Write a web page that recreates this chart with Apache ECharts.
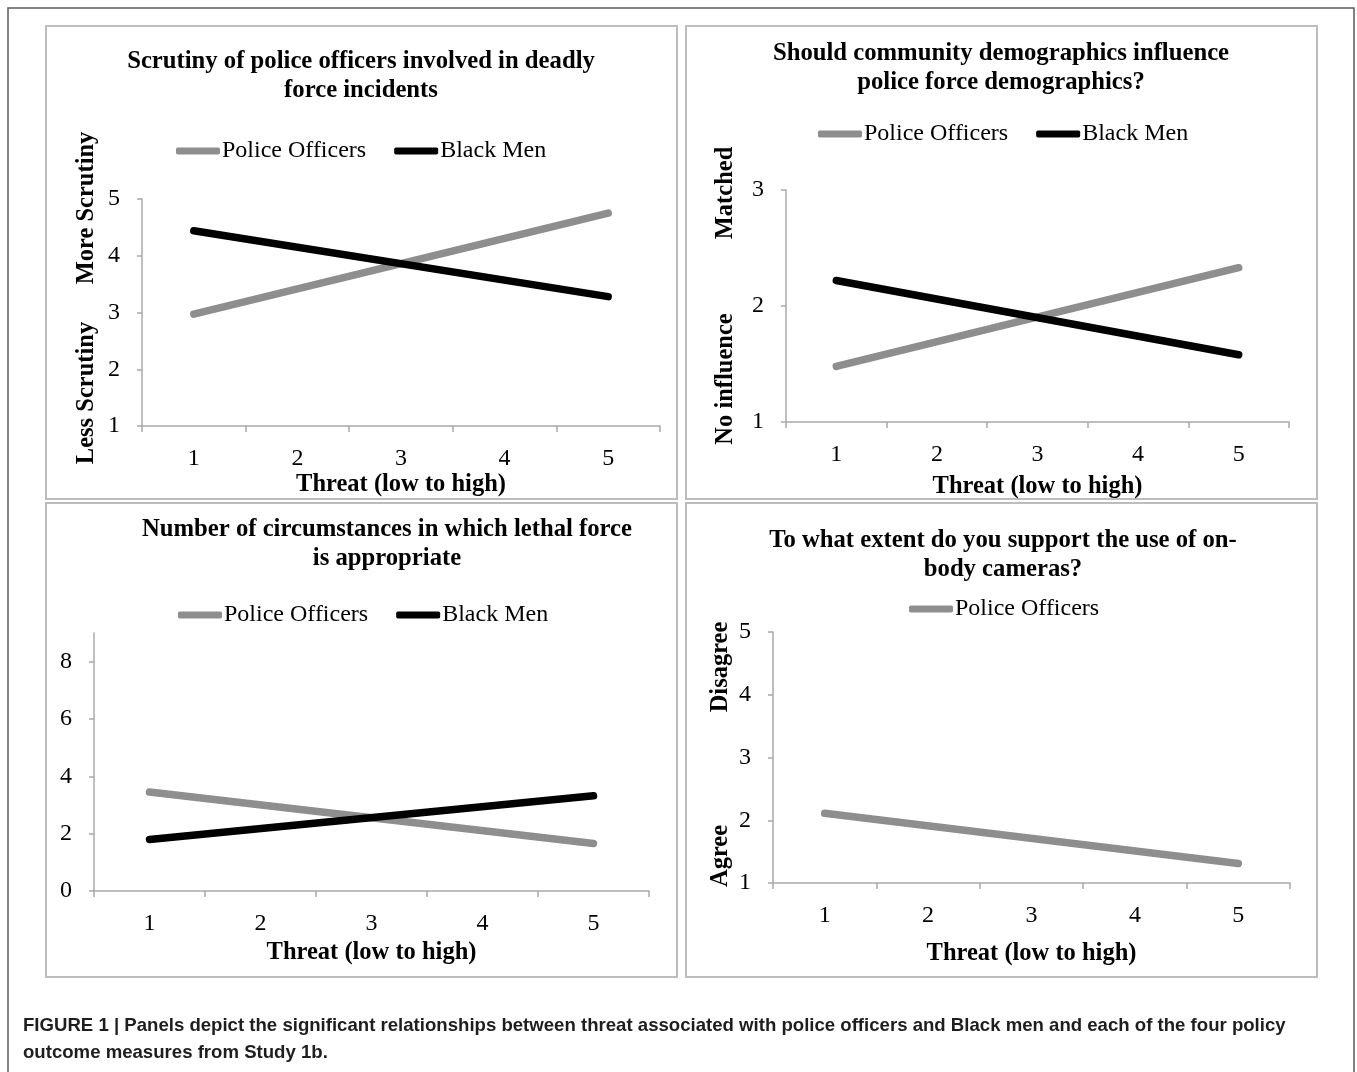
<!DOCTYPE html>
<html><head><meta charset="utf-8">
<script src="https://cdn.jsdelivr.net/npm/echarts@6/dist/echarts.min.js"></script>
<style>html,body{margin:0;padding:0;background:#fff}#c{width:1357px;height:1072px}</style>
</head><body><div id="c"></div>
<script>
// ---------- data ----------
const threatLevels = ['1', '2', '3', '4', '5'];
const seriesNames = ['Police Officers', 'Black Men'];

// panel A: scrutiny (values read at threat 1 and 5; straight lines between)
const scrutinyPolice = [2.97, null, null, null, 4.75];
const scrutinyBlack  = [4.44, null, null, null, 3.28];
// panel B: community demographics
const demoPolice = [1.48, null, null, null, 2.33];
const demoBlack  = [2.22, null, null, null, 1.58];
// panel C: lethal force circumstances
const lethalPolice = [3.45, null, null, null, 1.66];
const lethalBlack  = [1.80, null, null, null, 3.32];
// panel D: on-body cameras
const cameraPolice = [2.11, null, null, null, 1.31];

// y axis ranges [min, max, interval]
const scrutinyRange = [1, 5, 1];
const demoRange = [1, 3, 1];
const lethalRange = [0, 9, 2];
const cameraRange = [1, 5, 1];

const titles = [
  'Scrutiny of police officers involved in deadly\nforce incidents',
  'Should community demographics influence\npolice force demographics?',
  'Number of circumstances in which lethal force\nis appropriate',
  'To what extent do you support the use of on-\nbody cameras?'
];
const xAxisName = 'Threat (low to high)';
const yNames = [['More Scrutiny', 'Less Scrutiny'], ['Matched', 'No influence'], null, ['Disagree', 'Agree']];
const caption1 = 'FIGURE 1 | Panels depict the significant relationships between threat associated with police officers and Black men and each of the four policy';
const caption2 = 'outcome measures from Study 1b.';

// ---------- styling / layout ----------
const SERIF = '"Liberation Serif", "Times New Roman", serif';
const GRAY = '#8e8e8e';
const AX = '#a9a9a9';
const grids = [
  {left: 142, top: 199, width: 518, height: 227},
  {left: 786, top: 190, width: 503, height: 232},
  {left: 94,  top: 633, width: 555, height: 258},
  {left: 773, top: 632, width: 517, height: 251}
];
const ranges = [scrutinyRange, demoRange, lethalRange, cameraRange];
const nameGaps = [38, 52, 49, 58];

const xAxes = grids.map((g, i) => ({
  type: 'category', gridIndex: i, data: threatLevels, boundaryGap: true,
  axisLine: {lineStyle: {color: AX, width: 1.5}},
  axisTick: {show: true, length: 6, lineStyle: {color: AX, width: 1.5}},
  axisLabel: {color: '#000', fontFamily: SERIF, fontSize: 24, margin: 21},
  name: xAxisName, nameLocation: 'middle', nameGap: nameGaps[i],
  nameTextStyle: {color: '#000', fontFamily: SERIF, fontSize: 24.5, fontWeight: 'bold'}
}));
const yAxes = ranges.map((r, i) => ({
  type: 'value', gridIndex: i, min: r[0], max: r[1], interval: r[2],
  splitLine: {show: false},
  axisLine: {show: true, lineStyle: {color: AX, width: 1.5}},
  axisTick: {show: true, length: 5, lineStyle: {color: AX, width: 1.5}},
  axisLabel: {color: '#000', fontFamily: SERIF, fontSize: 24, margin: 22, showMaxLabel: i !== 2}
}));

function line(name, data, idx, color) {
  return {
    type: 'line', name, data, xAxisIndex: idx, yAxisIndex: idx,
    connectNulls: true, symbol: 'none', silent: true,
    lineStyle: {color, width: 7.5, cap: 'round'}, itemStyle: {color}
  };
}
const series = [
  line(seriesNames[0], scrutinyPolice, 0, GRAY), line(seriesNames[1], scrutinyBlack, 0, '#000'),
  line(seriesNames[0], demoPolice, 1, GRAY), line(seriesNames[1], demoBlack, 1, '#000'),
  line(seriesNames[0], lethalPolice, 2, GRAY), line(seriesNames[1], lethalBlack, 2, '#000'),
  line(seriesNames[0], cameraPolice, 3, GRAY)
];

const legendPos = [[176, 148], [818, 131], [178, 612], [909, 606]];
const legends = legendPos.map((p, i) => ({
  left: p[0] - 5, top: p[1] - 14, orient: 'horizontal', itemGap: 28,
  itemWidth: 44, itemHeight: 7, icon: 'roundRect', selectedMode: false,
  data: i === 3 ? [seriesNames[0]] : seriesNames,
  textStyle: {fontFamily: SERIF, fontSize: 24, color: '#000', padding: [0, 0, 0, -3]}
}));

// panel boxes, title texts, rotated y names, frame, caption
const panels = [[46, 26, 631, 473], [686, 26, 631, 473], [46, 503, 631, 474], [686, 503, 631, 474]];
const titlePos = [[361, 62], [1001, 54], [387, 530], [1003, 541]];
const yNamePos = [[[87, 208], [87, 393]], [[726, 193], [726, 379]], null, [[721, 667], [721, 856]]];
const graphic = [];
graphic.push({type: 'polyline', shape: {points: [[8, 1080], [8, 8], [1354, 8], [1354, 1080]]},
  style: {stroke: '#5a5a5a', lineWidth: 1.5, fill: null}, silent: true});
panels.forEach(p => graphic.push({type: 'rect', shape: {x: p[0], y: p[1], width: p[2], height: p[3]},
  style: {stroke: '#bdbdbd', lineWidth: 2, fill: null}, silent: true}));
titles.forEach((t, i) => {
  const lines = t.split('\n');
  lines.forEach((ln, k) => graphic.push({type: 'text', x: titlePos[i][0], y: titlePos[i][1] + k * 29,
    style: {text: ln, font: 'bold 24.7px ' + SERIF, fill: '#000', align: 'center', verticalAlign: 'middle'}, silent: true}));
});
yNames.forEach((pair, i) => {
  if (!pair) return;
  pair.forEach((txt, k) => graphic.push({type: 'text', x: yNamePos[i][k][0], y: yNamePos[i][k][1], rotation: Math.PI / 2,
    style: {text: txt, font: 'bold 24.5px ' + SERIF, fill: '#000', align: 'center', verticalAlign: 'middle'}, silent: true}));
});
const capFont = 'bold 18.6px "Liberation Sans", Arial, sans-serif';
graphic.push({type: 'text', x: 23, y: 1026, style: {text: caption1, font: capFont, fill: '#1e1e1e', align: 'left', verticalAlign: 'middle'}, silent: true});
graphic.push({type: 'text', x: 23, y: 1053, style: {text: caption2, font: capFont, fill: '#1e1e1e', align: 'left', verticalAlign: 'middle'}, silent: true});

const chart = echarts.init(document.getElementById('c'), null, {renderer: 'canvas'});
chart.setOption({
  backgroundColor: '#fff', animation: false,
  grid: grids.map(g => Object.assign({containLabel: false}, g)),
  xAxis: xAxes, yAxis: yAxes, legend: legends, series, graphic
});
</script></body></html>
